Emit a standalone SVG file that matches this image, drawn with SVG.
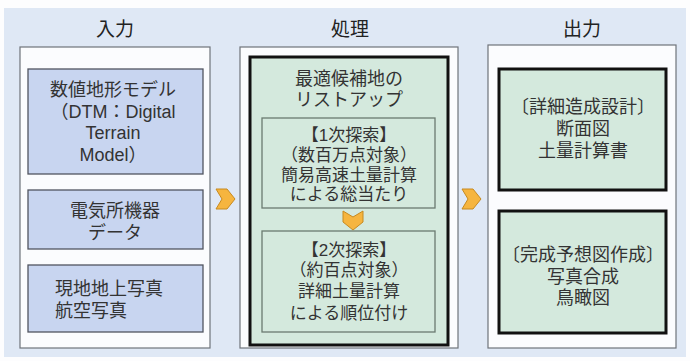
<svg xmlns="http://www.w3.org/2000/svg" width="690" height="361" viewBox="0 0 690 361">
<style>
text{font-family:"Liberation Sans","Noto Sans CJK JP",sans-serif;font-size:18px;fill:#333;text-anchor:middle;dominant-baseline:central}
.title{font-size:19px;fill:#222}
.s{font-size:17px}
.panel{fill:#fbfcfe;stroke:#6f737a;stroke-width:1.2}
.inbox{fill:#c8d5f0;stroke:#505560;stroke-width:1.3}
.thick{fill:#d4e9dd;stroke:#111;stroke-width:3}
.sub{fill:#d4e9dd;stroke:#6a7a70;stroke-width:1.3}
.arrow{fill:#f6b53f;stroke:#c78a20;stroke-width:1;stroke-linejoin:round}
</style>
<defs>
<path id="chev" d="M-9,-10 L2,-10 L10,0 L2,10 L-9,10 L-3,0 Z"/>
</defs>
<rect x="0" y="0" width="690" height="361" fill="#fdfdfe"/>
<rect x="4" y="8" width="682" height="349" fill="#dfe8f5"/>
<g id="input">
<text class="title" x="115" y="29">入力</text>
<rect class="panel" x="20" y="47" width="190" height="301"/>
<g id="dtm">
<rect class="inbox" x="28" y="69" width="175" height="105"/>
<text x="113" y="90">数値地形モデル<tspan x="113" y="112">（DTM：Digital</tspan><tspan x="113" y="133">Terrain</tspan><tspan x="113" y="155">Model）</tspan></text>
</g>
<g id="equip">
<rect class="inbox" x="28" y="190" width="175" height="59"/>
<text x="115" y="211">電気所機器<tspan x="115" y="233">データ</tspan></text>
</g>
<g id="photo">
<rect class="inbox" x="28" y="265" width="175" height="67"/>
<text x="55" y="289" style="text-anchor:start">現地地上写真<tspan x="55" y="311">航空写真</tspan></text>
</g>
</g>
<g id="process">
<text class="title" x="350" y="29">処理</text>
<rect class="panel" x="240" y="47" width="218" height="301"/>
<g id="listup">
<rect class="thick" x="250" y="57" width="198" height="288"/>
<text x="349" y="79">最適候補地の<tspan x="349" y="100">リストアップ</tspan></text>
</g>
<g id="search1">
<rect class="sub" x="262" y="118" width="173" height="90"/>
<text class="s" x="349" y="135.5">【1次探索】<tspan x="349" y="155">（数百万点対象）</tspan><tspan x="349" y="174.5">簡易高速土量計算</tspan><tspan x="349" y="194">による総当たり</tspan></text>
</g>
<g id="search2">
<rect class="sub" x="262" y="231" width="173" height="101"/>
<text class="s" x="349" y="250">【2次探索】<tspan x="349" y="270">（約百点対象）</tspan><tspan x="349" y="291">詳細土量計算</tspan><tspan x="349" y="313">による順位付け</tspan></text>
</g>
</g>
<g id="output">
<text class="title" x="582" y="29">出力</text>
<rect class="panel" x="488" y="45" width="188" height="303"/>
<g id="design">
<rect class="thick" x="499" y="69" width="167" height="121"/>
<text x="583" y="107">〔詳細造成設計〕<tspan x="583" y="129">断面図</tspan><tspan x="583" y="151">土量計算書</tspan></text>
</g>
<g id="forecast">
<rect class="thick" x="499" y="211" width="167" height="122"/>
<text x="583" y="255">〔完成予想図作成〕<tspan x="583" y="277">写真合成</tspan><tspan x="583" y="298">鳥瞰図</tspan></text>
</g>
</g>
<g id="connectors">
<use href="#chev" class="arrow" transform="translate(225,199)"/>
<use href="#chev" class="arrow" transform="translate(471,199)"/>
<use href="#chev" class="arrow" transform="translate(353,220) rotate(90)"/>
</g>
</svg>
